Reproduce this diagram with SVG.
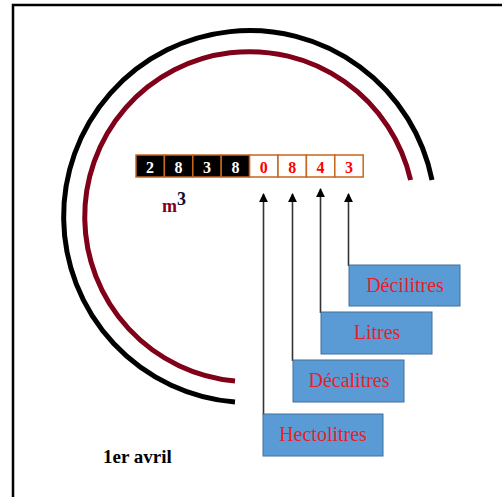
<svg xmlns="http://www.w3.org/2000/svg" width="502" height="497" viewBox="0 0 502 497">
<defs>
<style>
text{font-family:'Liberation Serif','Times New Roman',serif}
.frame{stroke:#000;stroke-width:2.5;fill:none}
.arcb{stroke:#000;stroke-width:5;fill:none}
.arcr{stroke:#7f0018;stroke-width:5;fill:none}
.cellk{fill:#000;stroke:#c8651e;stroke-width:1.5}
.cellw{fill:#fff;stroke:#c8651e;stroke-width:1.5}
.dw{font-weight:bold;font-size:16px;fill:#fff;text-anchor:middle}
.dr{font-weight:bold;font-size:16px;fill:#ff0000;text-anchor:middle}
.conn{stroke:#333;stroke-width:1.6;fill:none}
.box{fill:#5b9bd5;stroke:#41719c;stroke-width:1}
.lbl{font-size:20px;fill:#e8202a;text-anchor:middle}
</style>
<marker id="ah" viewBox="0 0 10 10" refX="9" refY="5" markerWidth="9" markerHeight="9" markerUnits="userSpaceOnUse" orient="auto">
<path d="M0,0 L10,5 L0,10 Z" fill="#000"/>
</marker>
</defs>
<rect width="502" height="497" fill="#fff"/>
<path class="frame" d="M13,497 V5 H502"/>
<path class="arcb" d="M235,402 A186,186 0 1 1 432,180"/>
<path class="arcr" d="M235,381 A165,165 0 1 1 410.6,180"/>
<g id="cells">
<rect class="cellk" x="136" y="155" width="28.4" height="22"/>
<rect class="cellk" x="164.4" y="155" width="28.4" height="22"/>
<rect class="cellk" x="192.8" y="155" width="28.4" height="22"/>
<rect class="cellk" x="221.2" y="155" width="28.4" height="22"/>
<rect class="cellw" x="249.6" y="155" width="28.4" height="22"/>
<rect class="cellw" x="278" y="155" width="28.4" height="22"/>
<rect class="cellw" x="306.4" y="155" width="28.4" height="22"/>
<rect class="cellw" x="334.8" y="155" width="28.4" height="22"/>
<text class="dw" x="150" y="172.5">2</text>
<text class="dw" x="178.6" y="172.5">8</text>
<text class="dw" x="207" y="172.5">3</text>
<text class="dw" x="235.4" y="172.5">8</text>
<text class="dr" x="263.8" y="172.5">0</text>
<text class="dr" x="292.2" y="172.5">8</text>
<text class="dr" x="320.6" y="172.5">4</text>
<text class="dr" x="349" y="172.5">3</text>
</g>
<g id="unit">
<text x="162" y="212" font-weight="bold" font-size="18" fill="#7f0018">m</text>
<text x="177" y="205" font-weight="bold" font-size="18" fill="#101030">3</text>
</g>
<g id="connectors">
<line class="conn" x1="263.5" y1="415" x2="263.5" y2="194" marker-end="url(#ah)"/>
<line class="conn" x1="292.5" y1="361" x2="292.5" y2="194" marker-end="url(#ah)"/>
<line class="conn" x1="320.5" y1="313" x2="320.5" y2="189" marker-end="url(#ah)"/>
<line class="conn" x1="348.5" y1="266" x2="348.5" y2="194" marker-end="url(#ah)"/>
</g>
<g id="decilitres">
<rect class="box" x="349" y="265" width="111" height="41"/>
<text class="lbl" x="405" y="292">Décilitres</text>
</g>
<g id="litres">
<rect class="box" x="321" y="312" width="111" height="42"/>
<text class="lbl" x="377" y="339">Litres</text>
</g>
<g id="decalitres">
<rect class="box" x="293" y="360" width="111" height="42"/>
<text class="lbl" x="349" y="387">Décalitres</text>
</g>
<g id="hectolitres">
<rect class="box" x="263" y="414" width="120" height="42"/>
<text class="lbl" x="323" y="441">Hectolitres</text>
</g>
<text x="103" y="463" font-weight="bold" font-size="19" fill="#000">1er avril</text>
</svg>
